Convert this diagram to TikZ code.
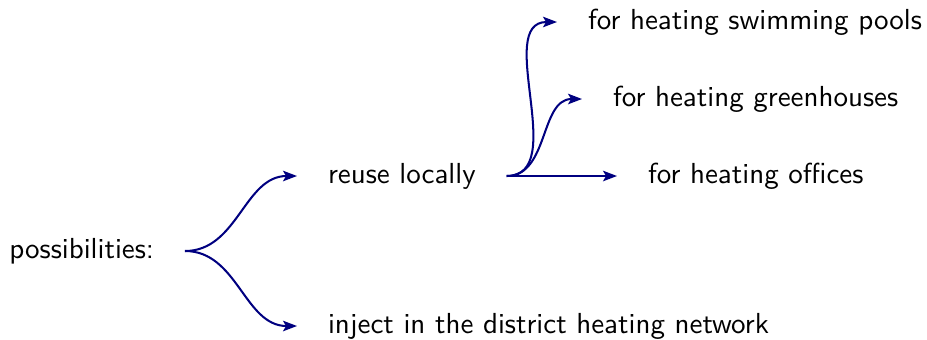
\documentclass[tikz,border=0pt]{standalone}
\usetikzlibrary{arrows.meta}
\definecolor{edgeblue}{rgb}{0,0,0.5}
\begin{document}
\begin{tikzpicture}[x=0.345pt,y=-0.345pt,
  lbl/.style={font=\sffamily, inner xsep=10.5pt, inner ysep=0pt, text height=7pt, text depth=2pt},
  conn/.style={draw=edgeblue, line width=0.7pt, -{Stealth[length=4.8pt,width=3.6pt,inset=1pt]}}]
\useasboundingbox (0,0) rectangle (927,339);
\node[lbl, anchor=east] (poss) at (185,251) {possibilities:};
\node[lbl, anchor=west] (reuse) at (297,176) {reuse locally};
\node[lbl, anchor=west] (inject) at (297,326) {inject in the district heating network};
\node[lbl, anchor=west] (pools) at (557,22) {for heating swimming pools};
\node[lbl, anchor=west] (green) at (582,99) {for heating greenhouses};
\node[lbl, anchor=west] (offices) at (617,176) {for heating offices};
\draw[conn] (poss.east) to[out=0,in=180] (reuse.west);
\draw[conn] (poss.east) to[out=0,in=180] (inject.west);
\draw[conn] (reuse.east) to[out=0,in=180] (pools.west);
\draw[conn] (reuse.east) to[out=0,in=180] (green.west);
\draw[conn] (reuse.east) to[out=0,in=180] (offices.west);
\end{tikzpicture}
\end{document}
